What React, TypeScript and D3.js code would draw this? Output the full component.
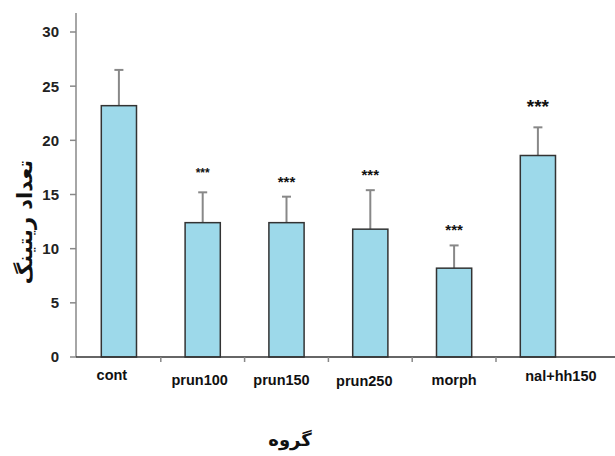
import React from "react";
import * as d3 from "d3";

const categories = ["cont", "prun100", "prun150", "prun250", "morph", "nal+hh150"];
const means = [23.2, 12.4, 12.4, 11.8, 8.2, 18.6];
const errTops = [26.5, 15.2, 14.8, 15.4, 10.3, 21.2];
const stars = ["", "***", "***", "***", "***", "***"];

// styling / layout tweaks (not data)
const starSizes = [0, 12, 15, 15, 15, 19];
const starGap = [0, 15, 10, 10, 10, 14];
const labelDx = [-7, -3, -5, -6, 0, 23];
const labelY = [380, 385, 385, 386, 385, 381];
const yTicks = [0, 5, 10, 15, 20, 25, 30];

export default function App() {
  const W = 615, H = 456;
  const x0 = 77, bandW = 83.8;
  const y = d3.scaleLinear().domain([0, 30]).range([357, 32]);
  const x = d3.scaleBand<string>().domain(categories).range([x0, x0 + bandW * 6]).paddingInner(0.58).paddingOuter(0.29);
  const bw = x.bandwidth();
  const font = "'Liberation Sans', Arial, sans-serif";
  const faFont = "'DejaVu Sans', 'Noto Sans', sans-serif";
  return (
    <svg width={W} height={H} style={{ position: "absolute", left: 0, top: 0 }} fontFamily={font}>
      <rect width={W} height={H} fill="#fff" />
      {/* y axis */}
      <line x1={76} x2={76} y1={13} y2={357} stroke="#888" strokeWidth={1.5} />
      {yTicks.map((t) => (
        <g key={t}>
          <line x1={70} x2={76} y1={y(t)} y2={y(t)} stroke="#888" strokeWidth={1.5} />
          <text x={59} y={y(t)} dy="0.36em" textAnchor="end" fontSize={15} fontWeight="bold" fill="#222">{t}</text>
        </g>
      ))}
      {/* bars */}
      {categories.map((c, i) => {
        const cx = (x(c) as number) + bw / 2;
        return (
          <g key={c}>
            <line x1={cx} x2={cx} y1={y(means[i])} y2={y(errTops[i])} stroke="#888" strokeWidth={2} />
            <line x1={cx - 4.5} x2={cx + 4.5} y1={y(errTops[i])} y2={y(errTops[i])} stroke="#888" strokeWidth={2} />
            <rect x={x(c)} y={y(means[i])} width={bw} height={y(0) - y(means[i])} fill="#9dd9ea" stroke="#333" strokeWidth={1.5} />
            {stars[i] && (
              <text x={cx} y={y(errTops[i]) - starGap[i]} textAnchor="middle" fontSize={starSizes[i]} fontWeight="bold" fill="#111">{stars[i]}</text>
            )}
            <text x={cx + labelDx[i]} y={labelY[i]} textAnchor="middle" fontSize={14.5} fontWeight="bold" fill="#111">{c}</text>
          </g>
        );
      })}
      {/* x axis */}
      <line x1={76} x2={615} y1={357} y2={357} stroke="#333" strokeWidth={1.5} />
      {categories.slice(1).map((c) => {
        const tx = (x(c) as number) - (x.step() * x.paddingInner()) / 2;
        return <line key={c} x1={tx} x2={tx} y1={357} y2={362} stroke="#888" strokeWidth={1.5} />;
      })}
      {/* axis titles */}
      <text transform="translate(32,222) rotate(-90)" textAnchor="middle" fontSize={21} fontWeight="bold" fill="#111" fontFamily={faFont} direction="rtl">تعداد ریتینگ</text>
      <text x={290} y={446} textAnchor="middle" fontSize={18} fontWeight="bold" fill="#111" fontFamily={faFont} direction="rtl">گروه</text>
    </svg>
  );
}
